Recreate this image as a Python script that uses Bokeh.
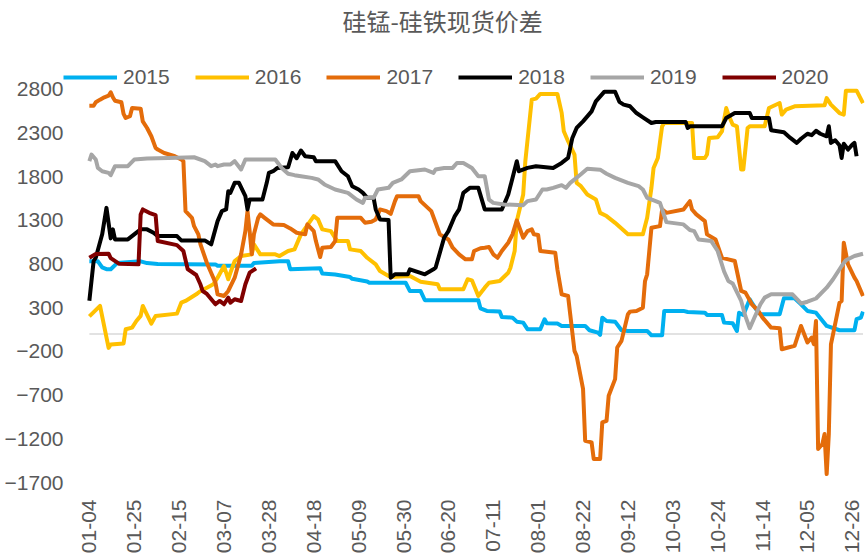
import math
import pandas as pd
from bokeh.plotting import figure
from bokeh.models import Range1d, FixedTicker, Legend, LegendItem
from bokeh.embed import file_html
from bokeh.resources import INLINE

# ---- data (x = day of year, 0-based, on a 2020 calendar) ----
tick_labels = ["01-04", "01-25", "02-15", "03-07", "03-28", "04-18", "05-09", "05-30", "06-20",
               "07-11", "08-01", "08-22", "09-12", "10-03", "10-24", "11-14", "12-05", "12-26"]
y_ticks = [-1700, -1200, -700, -200, 300, 800, 1300, 1800, 2300, 2800]

d15 = [3,7,9,11,13,16,27,30,35,62,63,79,80,92,96,97,111,112,118,125,126,133,134,151,153,158,160,185,186,189,
       195,196,201,203,206,208,214,216,217,222,224,235,237,241,242,243,245,249,252,255,264,266,271,272,281,283,
       291,292,299,300,304,306,307,309,312,313,316,317,326,328,333,336,339,343,348,354,361,362,364,365]
v15 = [830,830,760,740,740,810,830,810,800,795,780,780,810,830,830,740,750,690,680,650,630,600,585,585,490,490,
       385,385,293,263,255,194,186,140,129,54,54,168,122,118,91,91,42,15,-10,186,148,140,42,34,34,-15,-15,263,263,
       251,243,217,217,129,122,34,243,217,396,357,243,225,225,408,408,339,263,243,91,42,42,168,186,255]

d16 = [3,8,12,13,19,20,23,25,27,28,32,34,44,46,48,53,55,58,61,63,66,68,69,71,74,79,80,83,90,92,96,99,102,108,
       110,112,116,119,124,125,130,133,137,139,143,144,153,158,166,167,178,180,182,185,188,190,195,199,200,202,
       203,206,207,210,212,214,222,224,225,227,230,231,233,236,240,242,245,249,255,262,264,266,267,269,271,272,
       285,286,291,292,293,297,299,301,302,304,306,308,309,311,312,319,321,326,327,329,333,347,348,350,354,356,
       357,362,365]
v16 = [200,320,-160,-120,-110,54,72,148,206,320,118,206,232,357,377,453,491,529,567,643,777,625,700,834,891,910,
       1024,910,910,891,948,967,1139,1348,1310,1196,1176,1062,1062,967,948,871,796,719,662,651,662,597,568,510,
       510,625,613,434,529,586,605,700,754,948,1290,1595,1976,2680,2692,2745,2745,2528,2318,2204,2052,1728,1690,
       1595,1538,1385,1348,1271,1139,1139,1328,1671,1899,2013,2375,2413,2413,2013,2013,2052,2242,2250,2318,2584,
       2509,2395,2375,1881,1881,2356,2375,2375,2584,2641,2509,2566,2604,2615,2698,2623,2527,2509,2783,2783,2641]

d17 = [3,5,6,8,10,12,13,14,15,18,19,20,22,23,27,28,30,32,34,35,38,43,46,47,48,51,52,54,55,58,62,63,66,68,71,74,
       76,77,78,79,80,82,83,85,87,89,94,97,100,104,105,108,109,111,112,116,118,119,130,132,135,137,139,142,144,
       146,147,157,158,163,165,167,171,173,176,179,182,183,186,188,190,192,194,196,199,201,203,206,208,210,211,
       213,214,221,222,224,227,228,230,231,234,235,238,239,242,243,245,246,249,250,252,255,256,259,262,263,264,
       266,270,271,273,281,284,285,287,291,292,296,299,302,305,308,310,313,316,318,322,326,327,330,333,336,339,
       341,342,343,344,346,347,348,349,350,351,354,355,356,358,361,362,365]
v17 = [2610,2610,2650,2680,2707,2725,2764,2707,2668,2650,2518,2470,2490,2584,2577,2432,2356,2261,2128,2109,
       2070,2033,1995,1976,1405,1328,1233,1138,1024,811,586,453,434,491,643,910,1176,1405,1176,910,
       1139,1328,1367,1328,1290,1253,1245,1207,1157,1139,1253,1176,1062,879,986,994,1062,1328,1328,1271,
       1283,1310,1424,1405,1374,1519,1576,1576,1519,1405,1271,1139,1081,986,910,853,853,948,980,986,
       994,910,871,948,1043,1139,1298,1100,1176,1196,1139,1131,948,928,739,453,434,225,-194,-251,
       -628,-1222,-1241,-1431,-1431,-1013,-994,-708,-517,-156,-80,225,255,263,300,605,682,1214,1233,1424,
       1385,1424,1519,1424,1367,1290,1139,1081,871,853,834,491,472,339,263,186,72,65,-175,-156,
       -137,91,-99,-42,-118,148,-1317,-1260,-1146,-1603,-1146,-118,-3,357,377,1043,796,643,605,434]

d18 = [3,5,6,9,11,13,14,15,21,24,27,30,33,35,44,46,57,60,63,65,67,68,69,71,73,76,77,78,84,86,87,89,91,96,98,100,
       102,104,108,109,118,121,124,126,129,131,133,136,137,139,143,144,146,152,153,160,164,165,169,171,174,176,
       178,181,185,188,196,199,201,203,204,208,212,220,224,227,229,231,234,238,240,244,249,251,253,256,259,262,
       266,268,282,283,284,299,301,305,312,313,321,322,328,331,334,336,339,341,343,345,348,349,350,352,354,355,
       356,358,360,361,362]
v18 = [380,834,871,1139,1442,1093,1196,1081,1081,1139,1196,1196,1157,1119,1119,1070,1070,1024,1290,1405,
       1424,1633,1614,1728,1728,1576,1424,1538,1538,1728,1842,1861,1899,1907,2070,2010,2098,2033,2021,1976,
       1976,1861,1804,1690,1652,1614,1557,1557,1424,1310,1302,643,682,682,739,682,739,757,1100,1176,
       1348,1424,1614,1671,1671,1424,1424,1595,1785,1976,1861,1899,1919,1899,1956,2013,2242,2356,2432,2546,
       2660,2771,2771,2655,2623,2604,2527,2478,2413,2425,2425,2356,2375,2375,2470,2527,2527,2470,2470,2330,
       2307,2242,2185,2233,2290,2273,2324,2290,2261,2375,2185,2215,2158,2013,2175,2109,2166,2185,2033]

d19 = [3,4,6,7,9,12,13,15,21,24,30,40,52,57,60,62,63,66,69,71,74,76,90,93,96,99,102,107,110,113,118,124,128,131,
       132,136,138,143,145,149,153,160,164,165,169,173,175,178,182,185,188,190,192,197,206,208,212,215,217,220,
       224,226,228,233,236,242,245,249,255,260,262,264,268,270,273,281,284,286,288,294,297,300,302,304,308,310,
       312,314,317,319,322,332,336,339,343,348,351,355,357,361,365]
v19 = [1976,2052,1995,1899,1861,1842,1816,1919,1919,1995,2006,2013,2021,1976,1919,1938,1919,1938,1938,1976,
       1881,1995,1995,1899,1833,1816,1804,1785,1767,1710,1652,1614,1538,1499,1557,1557,1652,1671,1728,1767,
       1861,1881,1842,1881,1899,1899,1956,1956,1899,1804,1804,1536,1499,1481,1473,1519,1538,1652,1652,1671,
       1702,1671,1728,1827,1890,1879,1833,1785,1728,1690,1652,1557,1519,1499,1279,1253,1188,1176,1081,1062,
       948,714,605,577,377,200,65,177,339,415,453,453,348,368,405,529,625,777,843,891,917]

d20 = [3,6,12,13,17,26,27,28,31,34,35,44,47,49,53,55,56,58,62,64,66,68,69,71,74,76,78,81]
v20 = [871,914,917,868,802,796,1367,1424,1385,1359,1062,1016,948,742,674,565,491,457,339,377,339,415,357,396,
       377,568,700,750]

series_names = ["2015", "2016", "2017", "2018", "2019", "2020"]
series_colors = ["#00B0F0", "#FFC000", "#E46C0A", "#000000", "#A6A6A6", "#800000"]
series_x = [d15, d16, d17, d18, d19, d20]
series_y = [v15, v16, v17, v18, v19, v20]

tick_days = [int(pd.Timestamp("2020-" + t).dayofyear) - 1 for t in tick_labels]
all_days = [d for xs in series_x for d in xs]

FONT = "Liberation Sans"
GREY = "#595959"

p = figure(width=866, height=556, output_backend="svg", toolbar_location=None,
           x_range=Range1d(-9.1, 365.7), y_range=Range1d(-1700, 3391),
           min_border_left=63, min_border_right=2, min_border_top=37, min_border_bottom=73,
           background_fill_color="white", border_fill_color="white")

p.title.text = "硅锰-硅铁现货价差"
p.title.align = "left"
p.title.offset = 279
p.title.standoff = 0
p.title.text_font = "Noto Sans CJK SC"
p.title.text_font_size = "24px"
p.title.text_font_style = "normal"
p.title.text_color = GREY

p.outline_line_color = None
p.xgrid.visible = False
p.ygrid.visible = False

# horizontal category axis line at zero
p.segment(x0=[min(all_days)], y0=[0], x1=[max(all_days)], y1=[0], line_color="#D9D9D9", line_width=1.5)

renderers = []
for xs, ys, c in zip(series_x, series_y, series_colors):
    r = p.line(xs, ys, line_color=c, line_width=4, line_join="round")
    renderers.append(r)

p.xaxis.ticker = FixedTicker(ticks=tick_days)
p.xaxis.major_label_overrides = {d: l for d, l in zip(tick_days, tick_labels)}
p.xaxis.major_label_orientation = math.pi / 2
p.yaxis.ticker = FixedTicker(ticks=y_ticks)
for ax in (p.xaxis, p.yaxis):
    ax.axis_line_color = None
    ax.major_tick_line_color = None
    ax.minor_tick_line_color = None
    ax.major_tick_out = 0
    ax.major_tick_in = 0
    ax.major_label_text_font = FONT
    ax.major_label_text_font_size = "21px"
    ax.major_label_text_color = GREY
p.xaxis.major_label_standoff = 17
p.yaxis.major_label_standoff = 0

legend = Legend(items=[LegendItem(label=n, renderers=[r]) for n, r in zip(series_names, renderers)],
                orientation="horizontal", location=(0, 393),
                glyph_width=54, glyph_height=24, label_height=24, label_standoff=6, spacing=25,
                padding=0, margin=0, background_fill_alpha=0, border_line_color=None,
                label_text_font=FONT, label_text_font_size="21px", label_text_color=GREY)
p.add_layout(legend)

open("out.html", "w").write(file_html(p, INLINE))
